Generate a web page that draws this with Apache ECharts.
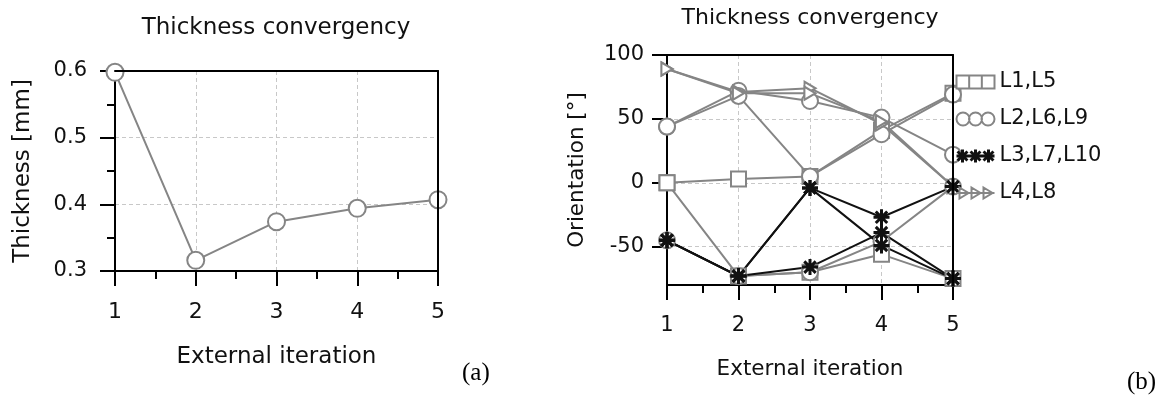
<!DOCTYPE html>
<html>
<head>
<meta charset="utf-8">
<script src="https://cdn.jsdelivr.net/npm/echarts@6/dist/echarts.min.js"></script>
<style>html,body{margin:0;padding:0;background:#fff}#c{width:1168px;height:402px}</style>
</head>
<body>
<div id="c"></div>
<script>
// ---- data ----
const iterations = [1, 2, 3, 4, 5];
const thickness = [0.598, 0.316, 0.374, 0.394, 0.407];

// orientation series (degrees) per layer
const L1 = [0, 3, 5, 41, 70];
const L5 = [0, -73, -70, -56, -75];
const L2 = [44, 72, 64, 51, 22];
const L6 = [44, 68, 5, 38, 69];
const L9 = [-45, -73, -70, -46, -3];
const L3 = [-45, -73, -4, -27, -3];
const L7 = [-45, -73, -4, -49, -75];
const L10 = [-45, -73, -66, -39, -75];
const L4 = [89, 71, 74, 46, -3];
const L8 = [89, 70, 70, 48, -3];

const thicknessTicks = [0.3, 0.4, 0.5, 0.6];
const orientationTicks = [-50, 0, 50, 100];

const legendNames = ['L1,L5', 'L2,L6,L9', 'L3,L7,L10', 'L4,L8'];

// ---- styling ----
const FONT = 'DejaVu Sans';
const GRAY = '#858585';
const BLACK = '#111111';
const TXT = '#111111';

const pairs = vals => iterations.map((x, i) => [x, vals[i]]);

const ICON_SQ = 'path://M0,0L38,0L38,13L0,13ZM12.67,0L12.67,13M25.33,0L25.33,13';
const ICON_CI = 'path://M0,6.5A6.5,6.5,0,1,1,13,6.5A6.5,6.5,0,1,1,0,6.5ZM12.5,6.5A6.5,6.5,0,1,1,25.5,6.5A6.5,6.5,0,1,1,12.5,6.5ZM25,6.5A6.5,6.5,0,1,1,38,6.5A6.5,6.5,0,1,1,25,6.5Z';
const ICON_ST = 'path://M0,6.5L38,6.5M6,0L6,13M1,2L11,11M1,11L11,2M19,0L19,13M14,2L24,11M14,11L24,2M32,0L32,13M27,2L37,11M27,11L37,2';
const ICON_TR = 'path://M0,6.5L38,6.5M3,1L12,6.5L3,12ZM15,1L24,6.5L15,12ZM27,1L36,6.5L27,12Z';
const SYM_STAR = 'path://M7,0L7,14M0,7L14,7M2,2L12,12M2,12L12,2';
const SYM_TRI = 'path://M0,0L10,6L0,12Z';

function orientSeries(name, vals, kind) {
  const s = {
    type: 'line', name: name, xAxisIndex: 1, yAxisIndex: 1,
    data: pairs(vals), animation: false, emphasis: {disabled: true},
    lineStyle: {color: GRAY, width: 2},
    itemStyle: {color: '#fff', borderColor: GRAY, borderWidth: 2},
    symbolSize: 15, showAllSymbol: true, clip: false
  };
  if (kind === 'sq') { s.symbol = 'rect'; s.symbolSize = 15; }
  if (kind === 'ci') { s.symbol = 'circle'; s.symbolSize = 16; }
  if (kind === 'tr') { s.symbol = SYM_TRI; s.symbolSize = [11, 13]; }
  if (kind === 'st') {
    s.symbol = SYM_STAR; s.symbolSize = 16; s.z = 3;
    s.lineStyle = {color: BLACK, width: 2};
    s.itemStyle = {color: BLACK, borderColor: BLACK, borderWidth: 3};
  }
  return s;
}

const lineOnly = {color: '#000', width: 2};
const axisCommon = {
  axisLine: {show: true, onZero: false, lineStyle: lineOnly},
  axisTick: {show: true, length: 15, lineStyle: {color: '#000', width: 2}},
  splitLine: {show: true, lineStyle: {color: '#c8c8c8', type: [4, 3], width: 1}}
};
// frame axes (top / right edges of each plot box)
function frameAxis(gridIndex, position, min, max) {
  return {
    type: 'value', gridIndex: gridIndex, position: position, min: min, max: max, z: 10,
    axisLine: {show: true, onZero: false, lineStyle: lineOnly},
    axisTick: {show: false}, axisLabel: {show: false}, splitLine: {show: false}
  };
}

const chart = echarts.init(document.getElementById('c'), null, {renderer: 'canvas'});
chart.setOption({
  animation: false,
  backgroundColor: '#fff',
  grid: [
    {left: 115, top: 71, width: 323, height: 200},
    {left: 667, top: 55, width: 286, height: 230}
  ],
  xAxis: [
    Object.assign({}, axisCommon, {
      type: 'value', gridIndex: 0, min: 1, max: 5, interval: 1, position: 'bottom',
      minorTick: {show: true, splitNumber: 2, length: 8, lineStyle: {color: '#000', width: 2}},
      axisLabel: {margin: 30, fontFamily: FONT, fontSize: 22, color: TXT},
      name: 'External iteration', nameLocation: 'middle', nameGap: 75,
      nameTextStyle: {fontFamily: FONT, fontSize: 23, color: TXT}
    }),
    Object.assign({}, axisCommon, {
      type: 'value', gridIndex: 1, min: 1, max: 5, interval: 1, position: 'bottom',
      minorTick: {show: true, splitNumber: 2, length: 8, lineStyle: {color: '#000', width: 2}},
      axisLabel: {margin: 30, fontFamily: FONT, fontSize: 21, color: TXT},
      name: 'External iteration', nameLocation: 'middle', nameGap: 73,
      nameTextStyle: {fontFamily: FONT, fontSize: 21.5, color: TXT}
    }),
    frameAxis(0, 'top', 1, 5),
    frameAxis(1, 'top', 1, 5)
  ],
  yAxis: [
    Object.assign({}, axisCommon, {
      type: 'value', gridIndex: 0, min: 0.3, max: 0.6, interval: 0.1, position: 'left',
      minorTick: {show: true, splitNumber: 2, length: 8, lineStyle: {color: '#000', width: 2}},
      axisLabel: {margin: 28, fontFamily: FONT, fontSize: 21, color: TXT, customValues: thicknessTicks,
        formatter: v => v.toFixed(1)},
      name: 'Thickness [mm]', nameLocation: 'middle', nameGap: 80,
      nameTextStyle: {fontFamily: FONT, fontSize: 23, color: TXT}
    }),
    Object.assign({}, axisCommon, {
      type: 'value', gridIndex: 1, min: -80, max: 100, position: 'left',
      axisTick: {show: true, length: 15, lineStyle: {color: '#000', width: 2}, customValues: orientationTicks},
      axisLabel: {margin: 23, fontFamily: FONT, fontSize: 21, color: TXT, customValues: orientationTicks},
      name: 'Orientation [°]', nameLocation: 'middle', nameGap: 79,
      nameTextStyle: {fontFamily: FONT, fontSize: 21.5, color: TXT}
    }),
    frameAxis(0, 'right', 0.3, 0.6),
    frameAxis(1, 'right', -80, 100)
  ],
  legend: {
    left: 955, top: 71, orient: 'vertical', padding: 0,
    itemWidth: 38, itemHeight: 13, itemGap: 15, selectedMode: false,
    textStyle: {fontFamily: FONT, fontSize: 21, color: TXT, lineHeight: 22},
    data: [
      {name: legendNames[0], icon: ICON_SQ, itemStyle: {color: '#fff', borderColor: GRAY, borderWidth: 2}},
      {name: legendNames[1], icon: ICON_CI, itemStyle: {color: '#fff', borderColor: GRAY, borderWidth: 2}},
      {name: legendNames[2], icon: ICON_ST, itemStyle: {color: BLACK, borderColor: BLACK, borderWidth: 3}},
      {name: legendNames[3], icon: ICON_TR, itemStyle: {color: '#fff', borderColor: GRAY, borderWidth: 2}}
    ]
  },
  graphic: [
    {type: 'text', x: 276, y: 28, style: {text: 'Thickness convergency', align: 'center', verticalAlign: 'middle', fontFamily: FONT, fontSize: 23, fill: TXT}},
    {type: 'text', x: 810, y: 18, style: {text: 'Thickness convergency', align: 'center', verticalAlign: 'middle', fontFamily: FONT, fontSize: 22, fill: TXT}},
    {type: 'text', x: 462, y: 373, style: {text: '(a)', align: 'left', verticalAlign: 'middle', fontFamily: 'Liberation Serif', fontSize: 25, fill: '#000'}},
    {type: 'text', x: 1127, y: 382, style: {text: '(b)', align: 'left', verticalAlign: 'middle', fontFamily: 'Liberation Serif', fontSize: 25, fill: '#000'}}
  ],
  series: [
    {
      type: 'line', name: 'Thickness', xAxisIndex: 0, yAxisIndex: 0,
      data: pairs(thickness), animation: false, emphasis: {disabled: true},
      symbol: 'circle', symbolSize: 17, showAllSymbol: true,
      lineStyle: {color: GRAY, width: 2},
      itemStyle: {color: '#fff', borderColor: GRAY, borderWidth: 2}
    },
    orientSeries(legendNames[0], L1, 'sq'),
    orientSeries(legendNames[0], L5, 'sq'),
    orientSeries(legendNames[1], L2, 'ci'),
    orientSeries(legendNames[1], L6, 'ci'),
    orientSeries(legendNames[3], L4, 'tr'),
    orientSeries(legendNames[3], L8, 'tr'),
    orientSeries(legendNames[1], L9, 'ci'),
    orientSeries(legendNames[2], L3, 'st'),
    orientSeries(legendNames[2], L7, 'st'),
    orientSeries(legendNames[2], L10, 'st')
  ]
});
</script>
</body>
</html>
